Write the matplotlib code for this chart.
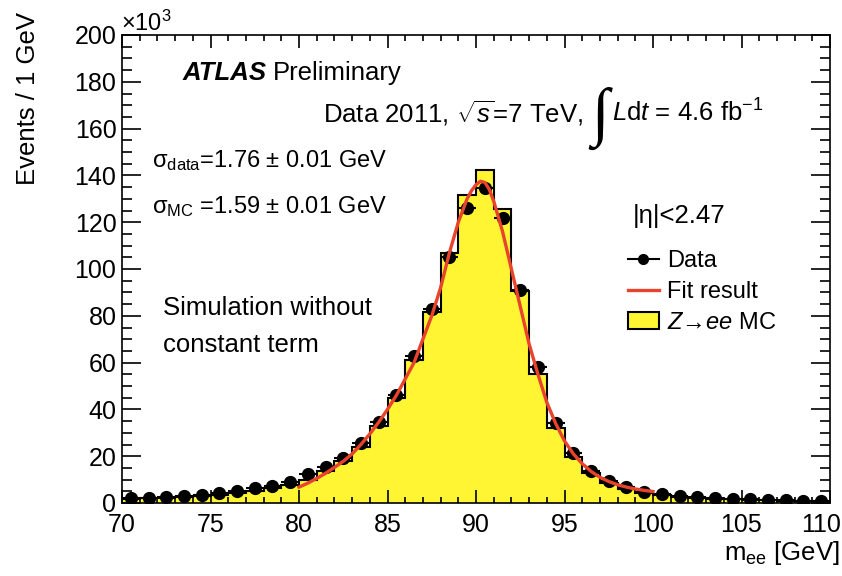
import matplotlib
matplotlib.use('Agg')
import matplotlib.pyplot as plt
import matplotlib.transforms as mtransforms
import numpy as np
from matplotlib.ticker import MultipleLocator
from matplotlib.patches import Patch
from matplotlib.lines import Line2D

plt.rcParams['font.family'] = ['Liberation Sans', 'DejaVu Sans']
plt.rcParams['mathtext.fontset'] = 'custom'
plt.rcParams['mathtext.rm'] = 'Liberation Sans'
plt.rcParams['mathtext.it'] = 'Liberation Sans:italic'
plt.rcParams['mathtext.bf'] = 'Liberation Sans:bold'

# bins 70..110 GeV, 1 GeV wide, values in units of 10^3 events
edges = np.arange(70, 111, 1)
data = [2.1, 2.2, 2.6, 2.8, 3.4, 4.2, 5.0, 6.2, 7.2, 8.8,
        12.2, 15.4, 19.2, 25.6, 34.6, 46, 63, 83, 105, 126,
        134.5, 122, 91, 58, 34.3, 21.5, 13.8, 9.4, 6.8, 4.8,
        3.8, 3.0, 2.6, 2.1, 1.8, 1.6, 1.3, 1.2, 0.9, 0.7]
mc = [1.8, 2.0, 2.2, 2.5, 2.9, 3.5, 4.2, 5.2, 6.3, 7.8,
      10.0, 13.5, 18.0, 24, 33, 45, 61, 81.6, 107, 131.6,
      142.3, 125.6, 90.5, 55, 32, 19.7, 12.8, 8.5, 6.0, 4.3,
      3.3, 2.6, 2.2, 1.8, 1.5, 1.3, 1.1, 1.0, 0.8, 0.7]
xticks = [70, 75, 80, 85, 90, 95, 100, 105, 110]

# fit curve
fit_x = [80.0, 80.5, 81.0, 81.5, 82.0, 82.5, 83.0, 83.5, 84.0, 84.5,
         85.0, 85.5, 86.0, 86.5, 87.0, 87.5, 88.0, 88.5, 89.0, 89.5,
         89.75, 90.0, 90.25, 90.5, 90.75, 91.0, 91.5, 92.0, 92.5, 93.0,
         93.5, 94.0, 94.5, 95.0, 95.5, 96.0, 96.5, 97.0, 97.5, 98.0,
         98.5, 99.0, 99.5, 100.0]
fit_y = [6.8, 8.5, 10.5, 12.7, 15.2, 17.8, 21, 25, 29.5, 34.5,
         40, 46, 53, 60, 70, 80, 92, 107, 120, 130,
         133.5, 136, 137.5, 137, 134, 129, 116, 100, 84, 68,
         55, 43, 34, 26.5, 21, 16.8, 13.5, 11, 9.2, 7.8,
         6.8, 6.0, 5.4, 4.9]

W, H = 842, 576
fig = plt.figure(figsize=(W / 100, H / 100), dpi=100)
ax = fig.add_axes([122 / W, 1 - 503 / H, (830 - 122) / W, (503 - 35) / H])

yellow = '#fff533'
red = '#e8432d'
ax.stairs(mc, edges, fill=True, color=yellow, zorder=1)
ax.stairs(mc, edges, color='black', lw=1.5, zorder=2)
centers = (edges[:-1] + edges[1:]) / 2
ax.errorbar(centers, data, xerr=0.5, fmt='o', color='black', ms=8.5,
            elinewidth=1.5, capsize=0, zorder=3)
ax.plot(fit_x, fit_y, color=red, lw=2.4, zorder=4)

ax.set_xlim(70, 110)
ax.set_ylim(0, 200)
ax.set_xticks(xticks)
ax.xaxis.set_minor_locator(MultipleLocator(1))
ax.yaxis.set_major_locator(MultipleLocator(20))
ax.yaxis.set_minor_locator(MultipleLocator(5))
ax.tick_params(which='both', direction='in', top=True, right=True,
               labelsize=18, width=1.2)
ax.xaxis.set_tick_params(which='major', length=9.5, pad=7.5)
ax.xaxis.set_tick_params(which='minor', length=4.5)
ax.yaxis.set_tick_params(which='major', length=14, pad=4)
ax.yaxis.set_tick_params(which='minor', length=7)
for s in ax.spines.values():
    s.set_linewidth(1.2)

# keep the last x label inside the picture
last = ax.get_xticklabels()[-1]
last.set_transform(last.get_transform() +
                   mtransforms.ScaledTranslation(-0.09, 0, fig.dpi_scale_trans))


def px(x, y):
    return x / W, 1 - y / H


fig.text(*px(28, 12), 'Events / 1 GeV', rotation=90, ha='center', va='top',
         fontsize=18.5)
fig.text(*px(840, 560), r'm$_{\rm ee}$ [GeV]', ha='right', va='baseline',
         fontsize=18.5)
fig.text(*px(121, 31), r'$\times$10$^{3}$', ha='left', va='baseline',
         fontsize=17)

fig.text(*px(183, 80), 'ATLAS', fontsize=18.5, fontweight='bold',
         fontstyle='italic', va='baseline')
fig.text(*px(273, 80), 'Preliminary', fontsize=18.5, va='baseline')

fig.text(*px(583, 122), r'Data 2011, $\sqrt{s}$=7 TeV,', fontsize=18.5,
         ha='right', va='baseline')
fig.text(*px(600, 133), '\u222b', fontsize=46, ha='center', va='baseline',
         family='Liberation Serif')
fig.text(*px(612, 122), r'$L$d$t$ = 4.6 fb$^{-1}$', fontsize=18.5,
         ha='left', va='baseline')

fig.text(*px(152, 167), '\u03c3$_{\\rm data}$=1.76 $\\pm$ 0.01 GeV',
         fontsize=17, va='baseline')
fig.text(*px(152, 213), '\u03c3$_{\\rm MC}$ =1.59 $\\pm$ 0.01 GeV',
         fontsize=17, va='baseline')

fig.text(*px(633, 223), '|\u03b7|<2.47', fontsize=18.5, va='baseline')

fig.text(*px(163, 315), 'Simulation without', fontsize=18.5, va='baseline')
fig.text(*px(163, 352), 'constant term', fontsize=18.5, va='baseline')

h_data = Line2D([], [], color='black', marker='o', ms=7, lw=1.5)
h_fit = Line2D([], [], color=red, lw=2.4)
h_mc = Patch(facecolor=yellow, edgecolor='black', lw=1.5)
ax.legend([h_data, h_fit, h_mc], ['Data', 'Fit result', '$Z$\u2192$ee$ MC'],
          loc='upper left', bbox_to_anchor=px(628, 250),
          bbox_transform=fig.transFigure, frameon=False, fontsize=17,
          handlelength=1.3, handletextpad=0.35, labelspacing=0.38,
          borderpad=0, borderaxespad=0)

fig.savefig('out.png', dpi=100)
